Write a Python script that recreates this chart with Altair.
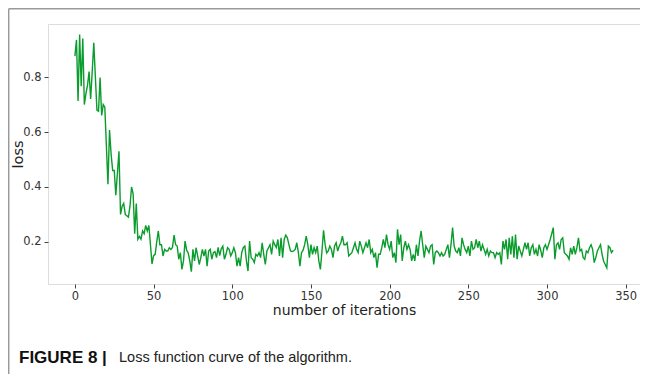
import altair as alt
import pandas as pd

# loss values, by iteration segment
loss_0_49 = [0.876, 0.935, 0.713, 0.955, 0.767, 0.94, 0.70, 0.74, 0.77, 0.82,
             0.72, 0.82, 0.925, 0.80, 0.68, 0.676, 0.798, 0.66, 0.70, 0.69,
             0.55, 0.41, 0.607, 0.52, 0.46, 0.46, 0.37, 0.45, 0.53, 0.30,
             0.33, 0.34, 0.30, 0.295, 0.29, 0.33, 0.40, 0.375, 0.23, 0.34,
             0.21, 0.22, 0.21, 0.24, 0.23, 0.26, 0.24, 0.26, 0.19, 0.12]
loss_50_112 = [0.15, 0.155, 0.20, 0.24, 0.19, 0.19, 0.149, 0.173, 0.167, 0.167,
               0.179, 0.173, 0.18, 0.225, 0.19, 0.185, 0.137, 0.161, 0.10, 0.131,
               0.203, 0.17, 0.16, 0.131, 0.092, 0.173, 0.131, 0.179, 0.149, 0.118,
               0.143, 0.173, 0.149, 0.173, 0.112, 0.167, 0.173, 0.137, 0.161, 0.165,
               0.143, 0.18, 0.15, 0.175, 0.185, 0.137, 0.155, 0.179, 0.173, 0.149,
               0.161, 0.179, 0.161, 0.112, 0.143, 0.112, 0.161, 0.179, 0.185, 0.131,
               0.094, 0.203, 0.143]
loss_113_171 = [0.137, 0.125, 0.155, 0.149, 0.161, 0.143, 0.197, 0.155, 0.118, 0.167,
                0.179, 0.19, 0.155, 0.203, 0.19, 0.18, 0.209, 0.149, 0.215, 0.143,
                0.209, 0.225, 0.215, 0.19, 0.167, 0.165, 0.167, 0.173, 0.197, 0.161,
                0.112, 0.161, 0.17, 0.19, 0.221, 0.19, 0.143, 0.19, 0.155, 0.179,
                0.161, 0.185, 0.131, 0.10, 0.167, 0.242, 0.19, 0.16, 0.167, 0.185,
                0.173, 0.143, 0.185, 0.197, 0.167, 0.185, 0.197, 0.221, 0.19]
loss_172_232 = [0.19, 0.197, 0.149, 0.155, 0.161, 0.179, 0.197, 0.173, 0.161, 0.203,
                0.185, 0.161, 0.179, 0.197, 0.179, 0.209, 0.161, 0.173, 0.143, 0.161,
                0.106, 0.155, 0.155, 0.179, 0.209, 0.179, 0.227, 0.19, 0.173, 0.203,
                0.143, 0.161, 0.125, 0.246, 0.19, 0.227, 0.131, 0.179, 0.203, 0.173,
                0.19, 0.173, 0.131, 0.155, 0.131, 0.19, 0.149, 0.203, 0.24, 0.19,
                0.143, 0.185, 0.173, 0.161, 0.185, 0.19, 0.118, 0.161, 0.167, 0.161,
                0.149]
loss_233_290 = [0.161, 0.149, 0.155, 0.173, 0.19, 0.143, 0.19, 0.252, 0.185, 0.167,
                0.161, 0.179, 0.149, 0.215, 0.19, 0.173, 0.161, 0.185, 0.149, 0.203,
                0.173, 0.179, 0.209, 0.179, 0.203, 0.167, 0.19, 0.173, 0.155, 0.173,
                0.149, 0.167, 0.161, 0.161, 0.143, 0.161, 0.155, 0.161, 0.118, 0.203,
                0.173, 0.209, 0.137, 0.215, 0.155, 0.221, 0.143, 0.227, 0.137, 0.185,
                0.167, 0.149, 0.173, 0.197, 0.173, 0.197, 0.149, 0.179]
loss_291_342 = [0.19, 0.155, 0.173, 0.149, 0.19, 0.17, 0.143, 0.179, 0.19, 0.173,
                0.19, 0.209, 0.23, 0.252, 0.137, 0.19, 0.197, 0.173, 0.209, 0.215,
                0.161, 0.155, 0.149, 0.137, 0.179, 0.155, 0.185, 0.155, 0.179, 0.215,
                0.167, 0.173, 0.143, 0.137, 0.167, 0.161, 0.179, 0.19, 0.173, 0.125,
                0.143, 0.167, 0.179, 0.19, 0.155, 0.13, 0.118, 0.106, 0.185, 0.179,
                0.161, 0.17]

x_ticks = [0, 50, 100, 150, 200, 250, 300, 350]
y_ticks = [0.2, 0.4, 0.6, 0.8]
caption_bold = ["FIGURE 8 |"]
caption_text = ["Loss function curve of the algorithm."]

loss = loss_0_49 + loss_50_112 + loss_113_171 + loss_172_232 + loss_233_290 + loss_291_342
df = pd.DataFrame({"iteration": list(range(len(loss))), "loss": loss})

W, H = 592, 260

line = alt.Chart(df).mark_line(color="#0a9c2c", strokeWidth=1.4).encode(
    x=alt.X("iteration:Q",
            scale=alt.Scale(domain=[-17.1, 359.1], nice=False, zero=False),
            axis=alt.Axis(values=x_ticks, title="number of iterations", grid=False,
                          domain=False, tickSize=4, tickColor="#444",
                          labelFontSize=11.5, labelColor="#333", labelPadding=2,
                          titleFontSize=14, titleFontWeight="normal", titleColor="#222",
                          titlePadding=2, labelFont="DejaVu Sans", titleFont="DejaVu Sans")),
    y=alt.Y("loss:Q",
            scale=alt.Scale(domain=[0.047, 0.993], nice=False, zero=False),
            axis=alt.Axis(values=y_ticks, format=".1f", title="loss", grid=False,
                          domain=False, tickSize=4, tickColor="#444",
                          labelFontSize=11.5, labelColor="#333", labelPadding=3,
                          titleFontSize=14.5, titleFontWeight="normal", titleColor="#222",
                          titlePadding=-3, labelFont="DejaVu Sans", titleFont="DejaVu Sans")),
)

cap1 = alt.Chart(pd.DataFrame({"t": caption_bold})).mark_text(
    align="left", baseline="middle", font="Liberation Sans", fontSize=17,
    fontWeight="bold", color="#111").encode(
    text="t:N", x=alt.value(-29), y=alt.value(334))

cap2 = alt.Chart(pd.DataFrame({"t": caption_text})).mark_text(
    align="left", baseline="middle", font="Liberation Sans",
    fontSize=14.5, color="#222").encode(
    text="t:N", x=alt.value(71), y=alt.value(334))

border_left = alt.Chart(pd.DataFrame({"a": [0]})).mark_rule(color="#999", strokeWidth=1.5).encode(
    x=alt.value(-39.3), y=alt.value(-15.3), y2=alt.value(352))
border_top = alt.Chart(pd.DataFrame({"a": [0]})).mark_rule(color="#999", strokeWidth=1.5).encode(
    x=alt.value(-39.3), x2=alt.value(W + 5), y=alt.value(-15.3))

chart = alt.layer(line, cap1, cap2, border_left, border_top).properties(
    width=W, height=H,
    autosize=alt.AutoSizeParams(type="none"),
    padding={"left": 40, "top": 16, "right": 0, "bottom": 90},
).configure_view(stroke="#9a9a9a", strokeWidth=1.2).configure(background="white")

chart.save("out.html", embed_options={"renderer": "svg", "actions": False})
